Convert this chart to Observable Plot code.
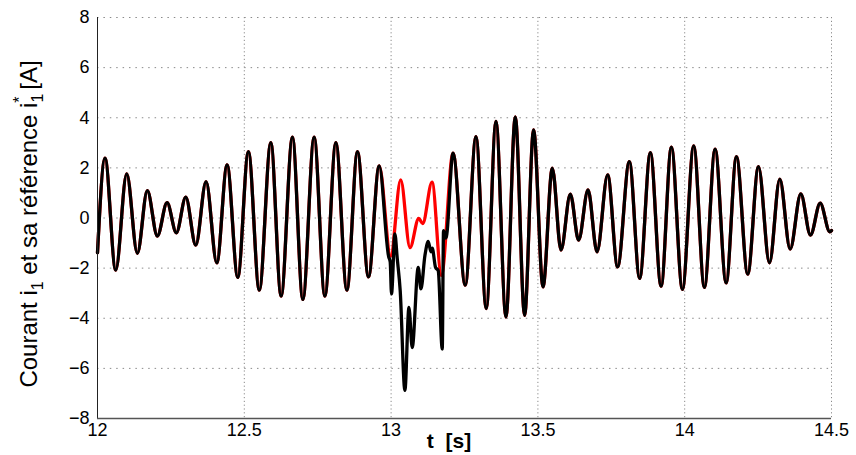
<!DOCTYPE html>
<html><head><meta charset="utf-8">
<script src="https://cdn.jsdelivr.net/npm/d3@7"></script>
<script src="https://cdn.jsdelivr.net/npm/@observablehq/plot@0.6"></script>
<style>body{margin:0;background:#fff;} svg{display:block}</style>
</head><body>
<div id="chart"></div>
<script>
// Common part before the disturbance (current = reference)
const tStart = [12.0000, 12.0256, 12.0620, 12.0995, 12.1357, 12.1697, 12.2038, 12.2369, 12.2686, 12.3006,
  12.3347, 12.3698, 12.4063, 12.4414, 12.4778, 12.5140, 12.5511, 12.5903, 12.6254, 12.6639,
  12.6994, 12.7379, 12.7744, 12.8119, 12.8494, 12.8855, 12.9230, 12.9594];
const iStart = [-1.38, 2.39, -2.08, 1.76, -1.41, 1.09, -0.72, 0.61, -0.59, 0.83,
  -1.08, 1.45, -1.79, 2.12, -2.37, 2.65, -2.88, 3.01, -3.12, 3.23,
  -3.25, 3.23, -3.12, 3.01, -2.88, 2.65, -2.35, 2.08];

// Reference i1* during the disturbance (red)
const tRefGap = [12.9986, 13.0327, 13.0644, 13.0941, 13.1077, 13.1394, 13.1714];
const iRefGap = [-1.52, 1.52, -1.18, -0.02, -0.22, 1.43, -2.29];

// Measured current i1 during the disturbance (black)
const tMeasGap = [12.9918, 12.9969, 13.0014, 13.0129, 13.0208, 13.0310, 13.0470, 13.0607, 13.0719, 13.0924,
  13.1016, 13.1152, 13.1265, 13.1357, 13.1401, 13.1513, 13.1605, 13.1742, 13.1786, 13.1868];
const iMeasGap = [-1.55, -1.75, -3.03, -0.63, -1.60, -2.90, -6.88, -3.57, -5.17, -1.97,
  -2.83, -1.50, -0.93, -1.35, -1.20, -1.97, -2.10, -5.23, -0.50, -0.80];

// Common part after the disturbance
const tEnd = [13.2110, 13.2526, 13.2890, 13.3241, 13.3572, 13.3913, 13.4230, 13.4547, 13.4853, 13.5174,
  13.5491, 13.5787, 13.6104, 13.6387, 13.6708, 13.7014, 13.7376, 13.7716, 13.8115, 13.8466,
  13.8831, 13.9196, 13.9547, 13.9922, 14.0307, 14.0671, 14.1036, 14.1411, 14.1762, 14.2147,
  14.2512, 14.2887, 14.3238, 14.3592, 14.3954, 14.4284, 14.4615, 14.4942, 14.5000];
const iEnd = [2.59, -2.68, 3.25, -3.61, 3.85, -3.95, 4.03, -3.88, 3.52, -2.75,
  1.99, -1.28, 0.95, -0.88, 1.12, -1.35, 1.72, -1.95, 2.25, -2.41,
  2.61, -2.72, 2.83, -2.85, 2.88, -2.77, 2.75, -2.59, 2.45, -2.24,
  2.05, -1.79, 1.55, -1.24, 0.96, -0.68, 0.59, -0.55, -0.50];

const xTicks = [12, 12.5, 13, 13.5, 14, 14.5];
const yTicks = [-8, -6, -4, -2, 0, 2, 4, 6, 8];

const toRows = (ts, vs) => ts.map((t, k) => ({t, v: vs[k]}));
const ref = [...toRows(tStart, iStart), ...toRows(tRefGap, iRefGap), ...toRows(tEnd, iEnd)];
const meas = [...toRows(tStart, iStart), ...toRows(tMeasGap, iMeasGap), ...toRows(tEnd, iEnd)];

const FONT = "'Liberation Sans', Arial, Helvetica, sans-serif";

const chart = Plot.plot({
  width: 856, height: 455,
  marginLeft: 97, marginRight: 25, marginTop: 17, marginBottom: 37,
  style: {fontFamily: FONT, fontSize: "18px", color: "#000", background: "#fff"},
  x: {domain: [12, 14.5], ticks: xTicks, tickSize: 0, tickPadding: 5, label: null, tickFormat: d => String(d)},
  y: {domain: [-8, 8], ticks: yTicks, tickSize: 0, tickPadding: 8, label: null,
      tickFormat: d => d < 0 ? "\u2212" + Math.abs(d) : String(d)},
  marks: [
    Plot.gridX(xTicks.filter(d => d > 12), {stroke: "#8a8a8a", strokeOpacity: 1, strokeWidth: 1, strokeDasharray: "1.2,2.6"}),
    Plot.gridY(yTicks.filter(d => d > -8), {stroke: "#8a8a8a", strokeOpacity: 1, strokeWidth: 1, strokeDasharray: "1.5,4.9"}),
    Plot.line(ref, {x: "t", y: "v", stroke: "#ff0000", strokeWidth: 3.3, curve: "monotone-x"}),
    Plot.line(meas, {x: "t", y: "v", stroke: "#000000", strokeWidth: 3.3, curve: "monotone-x"}),
    Plot.ruleX([12], {stroke: "#222", strokeWidth: 1}),
    Plot.ruleY([-8], {stroke: "#555", strokeWidth: 1.5})
  ]
});
document.getElementById("chart").appendChild(chart);

const svg = d3.select(chart);
// x label
svg.append("text")
  .attr("x", 449).attr("y", 448)
  .attr("text-anchor", "middle")
  .attr("font-family", FONT).attr("font-size", 21).attr("font-weight", "bold")
  .attr("fill", "#000")
  .text("t\u00A0\u00A0[s]");

// y label
const yl = svg.append("text")
  .attr("transform", "translate(37,224) rotate(-90)")
  .attr("text-anchor", "middle")
  .attr("font-family", FONT).attr("font-size", 24)
  .attr("fill", "#000");
yl.append("tspan").text("Courant i");
yl.append("tspan").attr("dy", 6).attr("font-size", 16).text("1");
yl.append("tspan").attr("dy", -6).text(" et sa référence i");
yl.append("tspan").attr("dy", 6).attr("font-size", 16).text("1");
yl.append("tspan").attr("dx", -9).attr("dy", -18).attr("font-size", 16).text("*");
yl.append("tspan").attr("dy", 12).text(" [A]");
</script>
</body></html>
